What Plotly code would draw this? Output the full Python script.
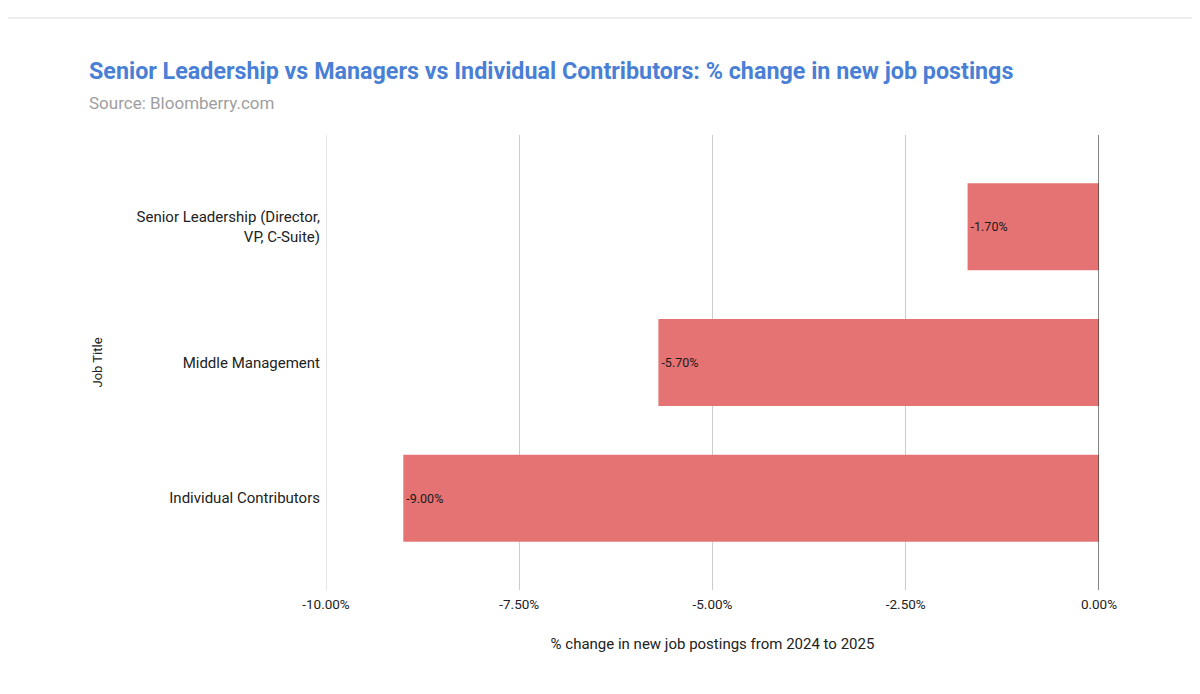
import plotly.graph_objects as go

categories = ["Senior Leadership (Director,<br>VP, C-Suite)", "Middle Management", "Individual Contributors"]
values = [-1.70, -5.70, -9.00]
labels = ["-1.70%", "-5.70%", "-9.00%"]
tick_vals = [-10, -7.5, -5, -2.5, 0]
tick_text = ["-10.00%", "-7.50%", "-5.00%", "-2.50%", "0.00%"]

# page offset of 8px (browser body margin) compensated in margins
L, T = 326, 135
PW, PH = 773, 455

fig = go.Figure()
fig.add_trace(go.Bar(
    y=categories, x=values, orientation="h",
    marker=dict(color="#e67373", line=dict(width=0)),
    width=0.64,
    text=labels, textposition="inside", insidetextanchor="end",
    textfont=dict(family="Roboto", size=12.5, color="#1a1a1a"),
    showlegend=False,
))

fig.update_layout(
    width=1200, height=694,
    paper_bgcolor="white", plot_bgcolor="white",
    margin=dict(l=318, r=109, t=127, b=112),
    font=dict(family="Roboto", color="#222222"),
    title=dict(
        text="<b>Senior Leadership vs Managers vs Individual Contributors: % change in new job postings</b>"
             "<br><span style='font-size:17px;color:#9e9e9e'>Source: Bloomberry.com</span>",
        x=81/1200, xanchor="left", xref="container",
        y=1-71/694, yanchor="top", yref="container",
        font=dict(family="Roboto", size=23.3, color="#4a7fd6"),
    ),
    xaxis=dict(
        range=[-10, 0.0], tickvals=tick_vals, ticktext=tick_text,
        showgrid=True, gridcolor="#cccccc", gridwidth=1,
        zeroline=False, showline=False,
        ticks="outside", ticklen=2, tickcolor="rgba(0,0,0,0)",
        tickfont=dict(family="Roboto", size=13.5, color="#222222"),
        title=dict(text="% change in new job postings from 2024 to 2025",
                   font=dict(family="Roboto", size=15, color="#222222"), standoff=27),
    ),
    yaxis=dict(
        categoryorder="array", categoryarray=categories,
        range=[2.676, -0.676],
        showgrid=False, zeroline=False, showline=False,
        ticks="outside", ticklen=2, tickcolor="rgba(0,0,0,0)",
        tickfont=dict(family="Roboto", size=15, color="#222222"),
    ),
    shapes=[
        dict(type="line", xref="x", yref="paper", x0=-10, x1=-10, y0=0, y1=1,
             line=dict(color="#cccccc", width=1), layer="below"),
        dict(type="line", xref="x", yref="paper", x0=0, x1=0, y0=0, y1=1,
             line=dict(color="#333333", width=1.2), layer="above"),
        dict(type="line", xref="paper", yref="paper", x0=-L/PW, x1=(1200-L)/PW,
             y0=1+(T-18)/PH, y1=1+(T-18)/PH, line=dict(color="#dddddd", width=1)),
    ],
)
fig.add_annotation(text="Job Title", textangle=-90, xref="paper", yref="paper",
                   x=(97-L)/PW, y=0.5, xanchor="center", yanchor="middle", showarrow=False,
                   font=dict(family="Roboto", size=13, color="#222222"))

fig.write_html("out.html")
